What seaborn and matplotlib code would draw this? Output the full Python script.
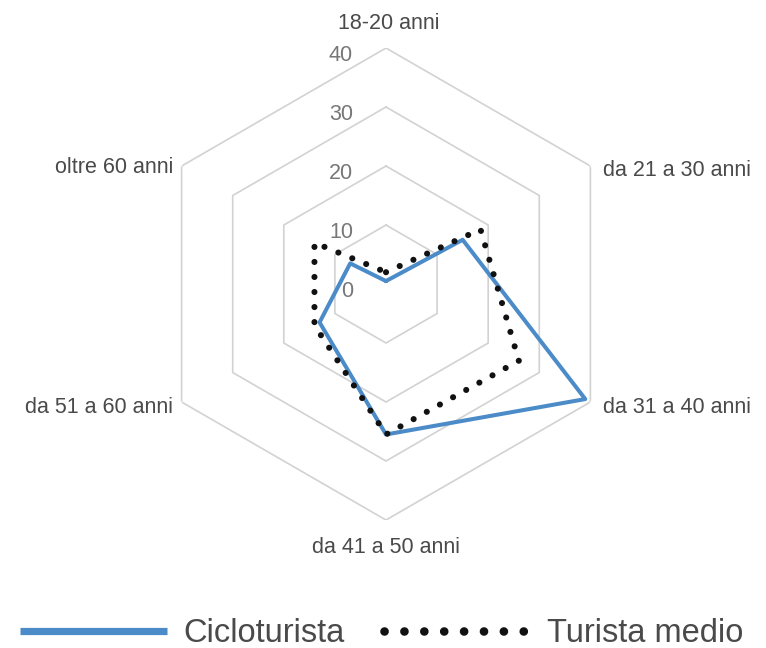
import numpy as np
import matplotlib
matplotlib.use("Agg")
import matplotlib.pyplot as plt
from matplotlib.lines import Line2D
import seaborn as sns
import pandas as pd

# ---- data ----
categories = ["18-20 anni", "da 21 a 30 anni", "da 31 a 40 anni",
              "da 41 a 50 anni", "da 51 a 60 anni", "oltre 60 anni"]
cicloturista = [0.5, 15, 39, 25.5, 13, 7]
turista_medio = [2, 18.5, 26, 25.5, 14, 14]
ring_values = [10, 20, 30, 40]
radial_ticks = [0, 10, 20, 30, 40]
radial_tick_labels = ["0", "10", "20", "30", "40"]
series_names = ["Cicloturista", "Turista medio"]

sns.set_theme(style="white")
plt.rcParams['font.family'] = ['Liberation Sans', 'DejaVu Sans']

BLUE = "#4a8bc8"
DOT = "#111111"
GRID = "#d2d2d2"
TXT = "#4a4a4a"

fig = plt.figure(figsize=(7.66, 6.48), dpi=100)
ax = fig.add_axes([0.1958, 0.1975, 0.6162, 0.7284], projection='polar')
ax.set_theta_zero_location('N')
ax.set_theta_direction(-1)
ax.set_ylim(0, 40)
ax.grid(False)
ax.spines['polar'].set_visible(False)
ax.set_xticks([])
ax.set_yticks([])
ax.patch.set_alpha(0)

n = len(categories)
theta = np.arange(n) * 2 * np.pi / n
theta_closed = np.append(theta, 2 * np.pi)

# hexagonal grid rings
for rv in ring_values:
    ax.plot(theta_closed, [rv] * (n + 1), color=GRID, lw=1.2, zorder=1)

# data series
df = pd.DataFrame({
    "theta": np.concatenate([theta_closed, theta_closed]),
    "value": cicloturista + [cicloturista[0]] + turista_medio + [turista_medio[0]],
    "series": [series_names[0]] * (n + 1) + [series_names[1]] * (n + 1),
})

sns.lineplot(data=df[df.series == series_names[1]], x="theta", y="value",
             sort=False, estimator=None, color=DOT, lw=4.4, ax=ax,
             legend=False, zorder=3)
dot_line = ax.lines[-1]
dot_line.set_linestyle((0, (0.01, 2.45)))
dot_line.set_dash_capstyle('round')

sns.lineplot(data=df[df.series == series_names[0]], x="theta", y="value",
             sort=False, estimator=None, color=BLUE, lw=2.9, ax=ax,
             legend=False, zorder=2)
ax.set_xlabel("")
ax.set_ylabel("")
ax.set_ylim(0, 40)

# category labels
offsets = [(2, 17.3, 'center'), (9.4, -2.9, 'left'), (9.4, -4.3, 'left'),
           (0, -20, 'center'), (-6.2, -4.3, 'right'), (-6.2, -1.4, 'right')]
for t, lab, (dx, dy, ha) in zip(theta, categories, offsets):
    ax.annotate(lab, xy=(t, 40), xytext=(dx, dy), textcoords='offset points',
                ha=ha, va='center', fontsize=15.5, color=TXT,
                annotation_clip=False)

# radial tick labels
for v, lab in zip(radial_ticks, radial_tick_labels):
    ax.annotate(lab, xy=(0, v), xytext=(-23.8, -5.5), textcoords='offset points',
                ha='right', va='center', fontsize=15.5, color="#777777",
                annotation_clip=False)

# legend
handles = [Line2D([], [], color=BLUE, lw=5.2, solid_capstyle='butt'),
           Line2D([], [], color=DOT, lw=6.2, linestyle=(0, (0.01, 2.3)),
                  dash_capstyle='round')]
leg = fig.legend(handles, series_names, loc='center left',
                 bbox_to_anchor=(20 / 766, (648 - 634) / 648), ncol=2,
                 frameon=False, fontsize=23.5, handlelength=4.5,
                 handletextpad=0.5, columnspacing=1.2,
                 borderpad=0, borderaxespad=0)
for t in leg.get_texts():
    t.set_color(TXT)

fig.savefig("out.png", dpi=100)
